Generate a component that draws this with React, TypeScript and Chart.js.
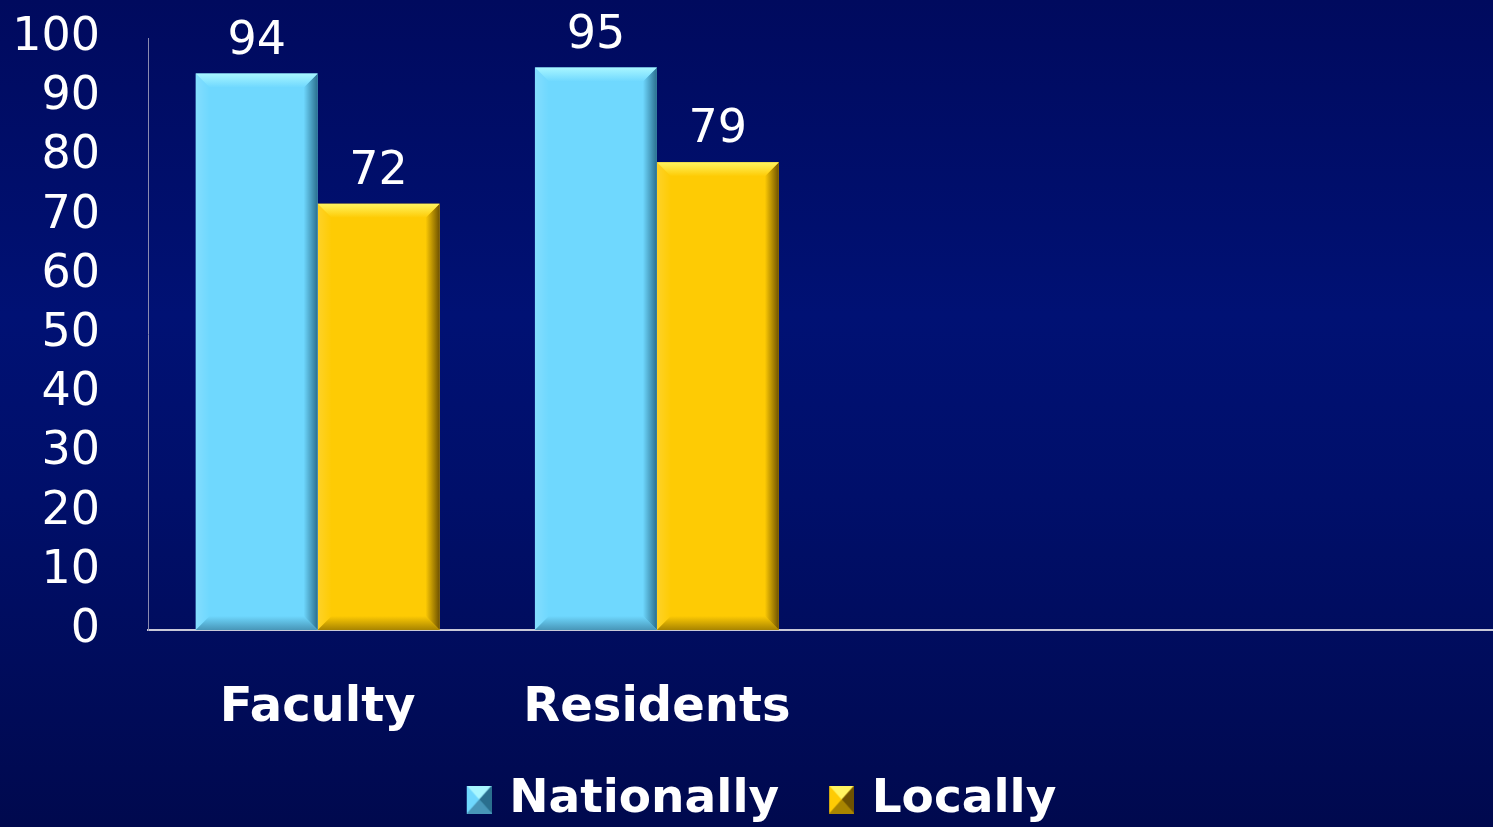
import React, { useEffect, useRef } from "react";
import { Chart, registerables } from "chart.js";

Chart.register(...registerables);

// ---- data ----
const categories = ["Faculty", "Residents", "", ""];
const seriesNames = ["Nationally", "Locally"];
const nationallyValues = [94, 95, null, null];
const locallyValues = [72, 79, null, null];
const yMin = 0;
const yMax = 100;
const yStep = 10;

// ---- styling ----
const FONT = "'DejaVu Sans', Verdana, sans-serif";
type Pal = { main: string; light: string; dark: string; bottom: string };
const bluePal: Pal = { main: "#6fd8fe", light: "#a8f6ff", dark: "#2a6f8e", bottom: "#4896b8" };
const goldPal: Pal = { main: "#fecb04", light: "#fff460", dark: "#6e5200", bottom: "#a88400" };
const palettes = [bluePal, goldPal];

function drawBevel(ctx: CanvasRenderingContext2D, L: number, T: number, R: number, B: number, p: Pal) {
  const b = Math.min(14, (R - L) / 2, (B - T) / 2);
  ctx.save();
  // left
  ctx.beginPath();
  ctx.moveTo(L, T); ctx.lineTo(L + b, T + b); ctx.lineTo(L + b, B - b); ctx.lineTo(L, B); ctx.closePath();
  let g = ctx.createLinearGradient(L, 0, L + b, 0);
  g.addColorStop(0, "rgba(255,255,255,0.14)");
  g.addColorStop(1, "rgba(255,255,255,0.0)");
  ctx.fillStyle = g; ctx.fill();
  // right
  ctx.beginPath();
  ctx.moveTo(R, T); ctx.lineTo(R, B); ctx.lineTo(R - b, B - b); ctx.lineTo(R - b, T + b); ctx.closePath();
  g = ctx.createLinearGradient(R - b, 0, R, 0);
  g.addColorStop(0, p.main);
  g.addColorStop(1, p.dark);
  ctx.fillStyle = g; ctx.fill();
  // bottom
  ctx.beginPath();
  ctx.moveTo(L, B); ctx.lineTo(R, B); ctx.lineTo(R - b, B - b); ctx.lineTo(L + b, B - b); ctx.closePath();
  g = ctx.createLinearGradient(0, B - b, 0, B);
  g.addColorStop(0, p.main);
  g.addColorStop(1, p.bottom);
  ctx.fillStyle = g; ctx.fill();
  // top
  ctx.beginPath();
  ctx.moveTo(L, T); ctx.lineTo(R, T); ctx.lineTo(R - b, T + b); ctx.lineTo(L + b, T + b); ctx.closePath();
  g = ctx.createLinearGradient(0, T, 0, T + b);
  g.addColorStop(0, p.light);
  g.addColorStop(1, p.main);
  ctx.fillStyle = g; ctx.fill();
  ctx.restore();
}

// marker image: transparent strip on the left, beveled square on the right
const MARK_BOX = 33;
const MARK_W = MARK_BOX + 12;
function makeMarker(p: Pal): HTMLCanvasElement {
  const c = document.createElement("canvas");
  const s = 25, h = 28;
  c.width = MARK_W; c.height = h;
  const ctx = c.getContext("2d")!;
  const ox = MARK_W - s;
  ctx.fillStyle = p.main;
  ctx.fillRect(ox, 0, s, h);
  const cx = ox + s / 2, cy = h / 2;
  const tri = (pts: number[][], col: string) => {
    ctx.beginPath();
    ctx.moveTo(pts[0][0], pts[0][1]);
    for (let i = 1; i < pts.length; i++) ctx.lineTo(pts[i][0], pts[i][1]);
    ctx.closePath();
    ctx.fillStyle = col; ctx.fill();
  };
  tri([[ox, 0], [ox + s, 0], [cx, cy]], p.light);
  tri([[ox, h], [ox + s, h], [cx, cy]], p.bottom);
  tri([[ox + s, 0], [ox + s, h], [cx, cy]], p.dark);
  return c;
}

const bevelPlugin = {
  id: "bevel",
  afterDatasetsDraw(chart: any) {
    const ctx = chart.ctx;
    chart.data.datasets.forEach((ds: any, di: number) => {
      const meta = chart.getDatasetMeta(di);
      meta.data.forEach((el: any, i: number) => {
        const v = ds.data[i];
        if (v === null || v === undefined) return;
        const L = el.x - el.width / 2;
        const R = el.x + el.width / 2;
        drawBevel(ctx, L, el.y, R, el.base, palettes[di]);
      });
    });
  },
};

const valueLabelPlugin = {
  id: "valueLabels",
  afterDatasetsDraw(chart: any) {
    const ctx = chart.ctx;
    ctx.save();
    ctx.fillStyle = "#ffffff";
    ctx.font = `46px ${FONT}`;
    ctx.textAlign = "center";
    ctx.textBaseline = "alphabetic";
    chart.data.datasets.forEach((ds: any, di: number) => {
      const meta = chart.getDatasetMeta(di);
      meta.data.forEach((el: any, i: number) => {
        const v = ds.data[i];
        if (v === null || v === undefined) return;
        ctx.fillText(String(v), el.x, el.y - 20);
      });
    });
    ctx.restore();
  },
};

export default function App() {
  const ref = useRef<HTMLCanvasElement>(null);
  useEffect(() => {
    if (!ref.current) return;
    const markers = palettes.map(makeMarker);
    const chart = new Chart(ref.current, {
      type: "bar",
      data: {
        labels: categories,
        datasets: [
          {
            label: seriesNames[0],
            data: nationallyValues,
            backgroundColor: bluePal.main,
            borderWidth: 0,
            categoryPercentage: 0.719,
            barPercentage: 1,
          },
          {
            label: seriesNames[1],
            data: locallyValues,
            backgroundColor: goldPal.main,
            borderWidth: 0,
            categoryPercentage: 0.719,
            barPercentage: 1,
          },
        ],
      },
      options: {
        responsive: false,
        animation: false,
        devicePixelRatio: 1,
        layout: { padding: { top: 38, left: 4, right: 0, bottom: 27 } },
        plugins: {
          tooltip: { enabled: false },
          legend: {
            position: "bottom",
            labels: {
              color: "#ffffff",
              font: { family: FONT, size: 47, weight: "bold" },
              usePointStyle: true,
              boxWidth: MARK_BOX,
              padding: 36,
              generateLabels: (ch: any) =>
                ch.data.datasets.map((ds: any, i: number) => ({
                  text: ds.label,
                  fillStyle: palettes[i].main,
                  strokeStyle: palettes[i].main,
                  lineWidth: 0,
                  hidden: false,
                  datasetIndex: i,
                  pointStyle: markers[i],
                  fontColor: "#ffffff",
                })),
            },
          },
        },
        scales: {
          x: {
            z: 1,
            grid: { display: false, drawTicks: false },
            border: { display: true, color: "#c8c8d8", width: 2 },
            ticks: {
              color: "#ffffff",
              font: { family: FONT, size: 48, weight: "bold" },
              padding: 50,
              autoSkip: false,
              maxRotation: 0,
            },
            afterFit: (s: any) => {
              s.height = 110;
            },
          },
          y: {
            min: yMin,
            max: yMax,
            grid: { display: false, drawTicks: false },
            border: { display: true, color: "#8a8ab0", width: 1 },
            ticks: {
              stepSize: yStep,
              autoSkip: false,
              color: "#ffffff",
              font: { family: FONT, size: 46 },
              padding: 48,
            },
            afterFit: (s: any) => {
              s.width = 144;
              s.paddingTop = 0;
              s.paddingBottom = 0;
            },
          },
        },
      },
      plugins: [bevelPlugin, valueLabelPlugin],
    } as any);
    return () => chart.destroy();
  }, []);

  return (
    <div
      style={{
        position: "fixed",
        left: 0,
        top: 0,
        width: 1493,
        height: 827,
        overflow: "hidden",
        background: "linear-gradient(180deg, #000a5e 0%, #001174 38%, #000f6a 60%, #00094e 100%)",
      }}
    >
      <canvas ref={ref} width={1505} height={860} style={{ position: "absolute", left: 0, top: 0 }} />
    </div>
  );
}
